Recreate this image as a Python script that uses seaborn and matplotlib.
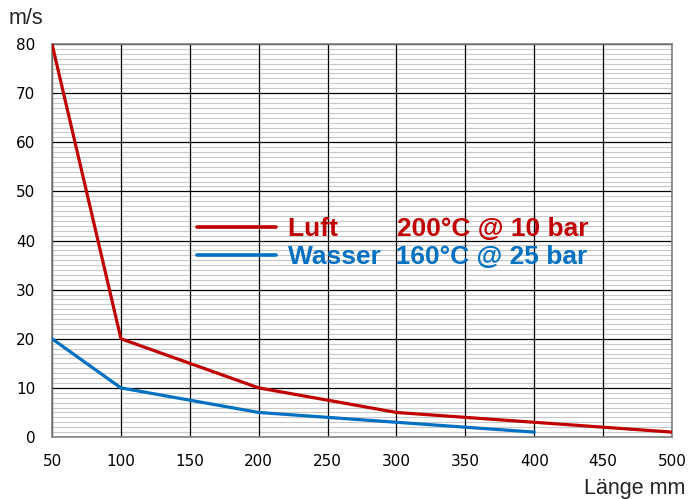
import matplotlib
matplotlib.use("Agg")
import matplotlib.pyplot as plt
import pandas as pd
import seaborn as sns
from matplotlib.ticker import MultipleLocator

# values
luft_x = [50, 100, 200, 300, 400, 500]
luft_y = [80, 20, 10, 5, 3, 1]
wasser_x = [50, 100, 200, 300, 400]
wasser_y = [20, 10, 5, 3, 1]
luft_label = "Luft        200°C @ 10 bar"
wasser_label = "Wasser  160°C @ 25 bar"

df = pd.concat([
    pd.DataFrame({"mm": luft_x, "ms": luft_y, "medium": luft_label}),
    pd.DataFrame({"mm": wasser_x, "ms": wasser_y, "medium": wasser_label}),
])

sns.set_style("white")
plt.rcParams['font.family'] = ['DejaVu Sans']

fig = plt.figure(figsize=(6.9, 4.99), dpi=100)
ax = fig.add_axes([0.0754, 0.1242, 0.8986, 0.7876])

sns.lineplot(data=df, x="mm", y="ms", hue="medium",
             palette={luft_label: "#C00000", wasser_label: "#0070C0"},
             linewidth=2.3, ax=ax, zorder=5)

ax.set_xlim(50, 500)
ax.set_ylim(0, 80)
ax.xaxis.set_major_locator(MultipleLocator(50))
ax.yaxis.set_major_locator(MultipleLocator(10))
ax.yaxis.set_minor_locator(MultipleLocator(1))
ax.set_axisbelow(True)
ax.grid(which="minor", axis="y", color="#c8c8c8", linewidth=0.8)
ax.grid(which="major", axis="y", color="black", linewidth=0.9)
# vertical lines drawn separately so they sit above the minor grid
ax.vlines(ax.get_xticks(), 0, 80, color="black", linewidth=0.9, zorder=1.5)
ax.set_xlim(50, 500)
ax.set_ylim(0, 80)
for s in ax.spines.values():
    s.set_color("#808080")
    s.set_linewidth(1.2)
ax.tick_params(axis="both", which="both", length=0, labelsize=11, colors="black")
ax.tick_params(axis="x", pad=12)
ax.tick_params(axis="y", pad=12)
ax.set_xlabel("")
ax.set_ylabel("")

fig.text(0.012, 0.962, "m/s", fontsize=15.5, family="Liberation Sans", va="center")
fig.text(0.993, 0.022, "Länge mm", fontsize=15.5, family="Liberation Sans",
         ha="right", va="center")

leg = ax.legend(loc="center left", bbox_to_anchor=(0.195, 0.494), frameon=False,
                handlelength=3.0, handletextpad=0.46, labelspacing=0.15,
                prop={"family": "Liberation Sans", "weight": "bold", "size": 19})
for t, c in zip(leg.get_texts(), ["#C00000", "#0070C0"]):
    t.set_color(c)
for h in leg.get_lines():
    h.set_linewidth(2.6)

fig.savefig("out.png", dpi=100)
